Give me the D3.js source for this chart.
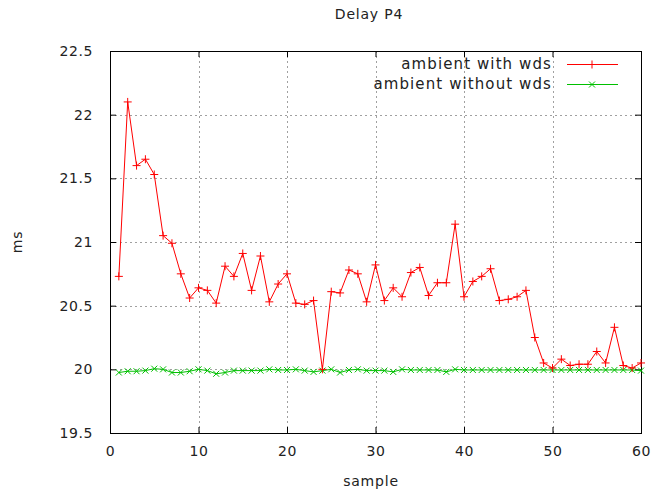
<!DOCTYPE html>
<html>
<head>
<meta charset="utf-8">
<script src="https://cdn.jsdelivr.net/npm/d3@7"></script>
<style>
    body { margin: 0; background: #fff; }
    text { font-family: "DejaVu Sans", sans-serif; fill: #222; }
</style>
</head>
<body>
<div id="delay_plot"></div>
<script>
    // samples 1..60
    const samples = d3.range(1, 61);
    const withWds = [
        20.73, 22.10, 21.60, 21.65, 21.53, 21.05, 20.99, 20.75, 20.56, 20.64,
        20.62, 20.52, 20.81, 20.73, 20.91, 20.62, 20.89, 20.53, 20.67, 20.75,
        20.52, 20.51, 20.54, 20.00, 20.61, 20.60, 20.78, 20.75, 20.53, 20.82,
        20.54, 20.64, 20.57, 20.76, 20.80, 20.58, 20.68, 20.68, 21.14, 20.57,
        20.69, 20.73, 20.79, 20.54, 20.55, 20.57, 20.62, 20.25, 20.05, 20.01,
        20.08, 20.03, 20.04, 20.04, 20.14, 20.05, 20.33, 20.03, 20.01, 20.05
    ];
    const withoutWds = [
        19.975, 19.985, 19.985, 19.99, 20.005, 20.0, 19.975, 19.975, 19.985, 20.0,
        19.99, 19.965, 19.975, 19.99, 19.99, 19.99, 19.99, 20.0, 19.995, 19.995,
        20.0, 19.99, 19.98, 19.99, 20.0, 19.975, 19.995, 20.0, 19.99, 19.99,
        19.99, 19.98, 20.0, 19.995, 19.995, 19.995, 19.995, 19.98, 20.0, 19.995,
        19.995, 19.995, 19.995, 19.995, 19.995, 19.995, 19.995, 19.995, 19.995, 19.995,
        19.995, 19.995, 19.995, 19.995, 19.995, 19.995, 19.995, 19.995, 19.995, 19.99
    ];
    const xTicks = [0, 10, 20, 30, 40, 50, 60];
    const yTicks = [19.5, 20, 20.5, 21, 21.5, 22, 22.5];
    const seriesNames = ["ambient with wds", "ambient without wds"];

    const margin = {top: 51, right: 10, bottom: 59, left: 110},
        width = 651 - margin.left - margin.right,
        height = 492 - margin.top - margin.bottom;

    const svg = d3.select("#delay_plot")
        .append("svg")
        .attr("width", 651)
        .attr("height", 492);
    const g = svg.append("g")
        .attr("transform", "translate(" + margin.left + "," + margin.top + ")");

    const xScale = d3.scaleLinear().domain([0, 60]).range([0, width]);
    const yScale = d3.scaleLinear().domain([19.5, 22.5]).range([height, 0]);

    // grid (dotted), skip the border positions
    g.selectAll("xGrid")
        .data(xTicks.filter(d => d > 0 && d < 60))
        .join("line")
        .attr("x1", d => Math.round(xScale(d)) + 0.5)
        .attr("x2", d => Math.round(xScale(d)) + 0.5)
        .attr("y1", 0).attr("y2", height)
        .attr("stroke", "#a0a0a0")
        .attr("stroke-dasharray", "2,3");
    g.selectAll("yGrid")
        .data(yTicks.filter(d => d > 19.5 && d < 22.5))
        .join("line")
        .attr("y1", d => Math.round(yScale(d)) + 0.5)
        .attr("y2", d => Math.round(yScale(d)) + 0.5)
        .attr("x1", 0).attr("x2", width)
        .attr("stroke", "#a0a0a0")
        .attr("stroke-dasharray", "2,3");

    // axes with inward ticks, mirrored on top and right
    const tickLen = 6;
    const xAxis = g.append("g")
        .attr("transform", "translate(0," + height + ")")
        .call(d3.axisBottom(xScale).tickValues(xTicks).tickSize(-tickLen).tickPadding(13));
    const yAxis = g.append("g")
        .call(d3.axisLeft(yScale).tickValues(yTicks).tickFormat(d3.format("")).tickSize(-tickLen).tickPadding(17));
    g.append("g")
        .call(d3.axisTop(xScale).tickValues(xTicks).tickSize(-tickLen).tickFormat(""));
    g.append("g")
        .attr("transform", "translate(" + width + ",0)")
        .call(d3.axisRight(yScale).tickValues(yTicks).tickSize(-tickLen).tickFormat(""));
    g.selectAll(".domain").remove();
    g.selectAll(".tick line").attr("stroke", "#000");
    [xAxis, yAxis].forEach(a => a.selectAll("text")
        .style("font-family", "DejaVu Sans")
        .style("font-size", "14px")
        .style("letter-spacing", "0.6px")
        .attr("fill", "#222"));

    g.append("rect")
        .attr("x", 0.5).attr("y", 0.5)
        .attr("width", width).attr("height", height)
        .attr("fill", "none")
        .attr("stroke", "#000");

    const colors = ["#ff0000", "#00c000"];
    const allData = [withWds, withoutWds];
    const line = d3.line()
        .x((d, i) => xScale(samples[i]))
        .y(d => yScale(d));

    const plusPath = s => `M${-s},0H${s}M0,${-s}V${s}`;
    const crossPath = s => `M${-s},${-s}L${s},${s}M${-s},${s}L${s},${-s}`;
    const markers = [plusPath(4), crossPath(3)];

    // draw green first so red stays on top
    [1, 0].forEach(k => {
        g.append("path")
            .attr("d", line(allData[k]))
            .attr("fill", "none")
            .attr("stroke", colors[k])
            .attr("stroke-width", 1);
        g.selectAll("pts" + k)
            .data(allData[k])
            .join("path")
            .attr("transform", (d, i) => "translate(" + xScale(samples[i]) + "," + yScale(d) + ")")
            .attr("d", markers[k])
            .attr("stroke", colors[k])
            .attr("stroke-width", 1)
            .attr("fill", "none");
    });

    // legend
    const legend = svg.append("g");
    seriesNames.forEach((name, i) => {
        const y = 64 + i * 20;
        legend.append("text")
            .attr("x", 552).attr("y", y)
            .attr("dy", "0.35em")
            .attr("text-anchor", "end")
            .style("font-size", "15px")
            .style("letter-spacing", "1.1px")
            .text(name);
        legend.append("line")
            .attr("x1", 567).attr("x2", 618)
            .attr("y1", y + 0.5).attr("y2", y + 0.5)
            .attr("stroke", colors[i]);
        legend.append("path")
            .attr("transform", "translate(592," + (y + 0.5) + ")")
            .attr("d", markers[i])
            .attr("stroke", colors[i])
            .attr("fill", "none");
    });

    // titles
    svg.append("text")
        .attr("x", 369).attr("y", 14)
        .attr("dy", "0.35em")
        .attr("text-anchor", "middle")
        .style("font-size", "14px")
        .style("letter-spacing", "0.8px")
        .text("Delay P4");
    svg.append("text")
        .attr("x", 371).attr("y", 481)
        .attr("dy", "0.35em")
        .attr("text-anchor", "middle")
        .style("font-size", "14px")
        .style("letter-spacing", "0.8px")
        .text("sample");
    svg.append("text")
        .attr("transform", "translate(17,242) rotate(-90)")
        .attr("dy", "0.35em")
        .attr("text-anchor", "middle")
        .style("font-size", "14px")
        .style("letter-spacing", "0.8px")
        .text("ms");
</script>
</body>
</html>
